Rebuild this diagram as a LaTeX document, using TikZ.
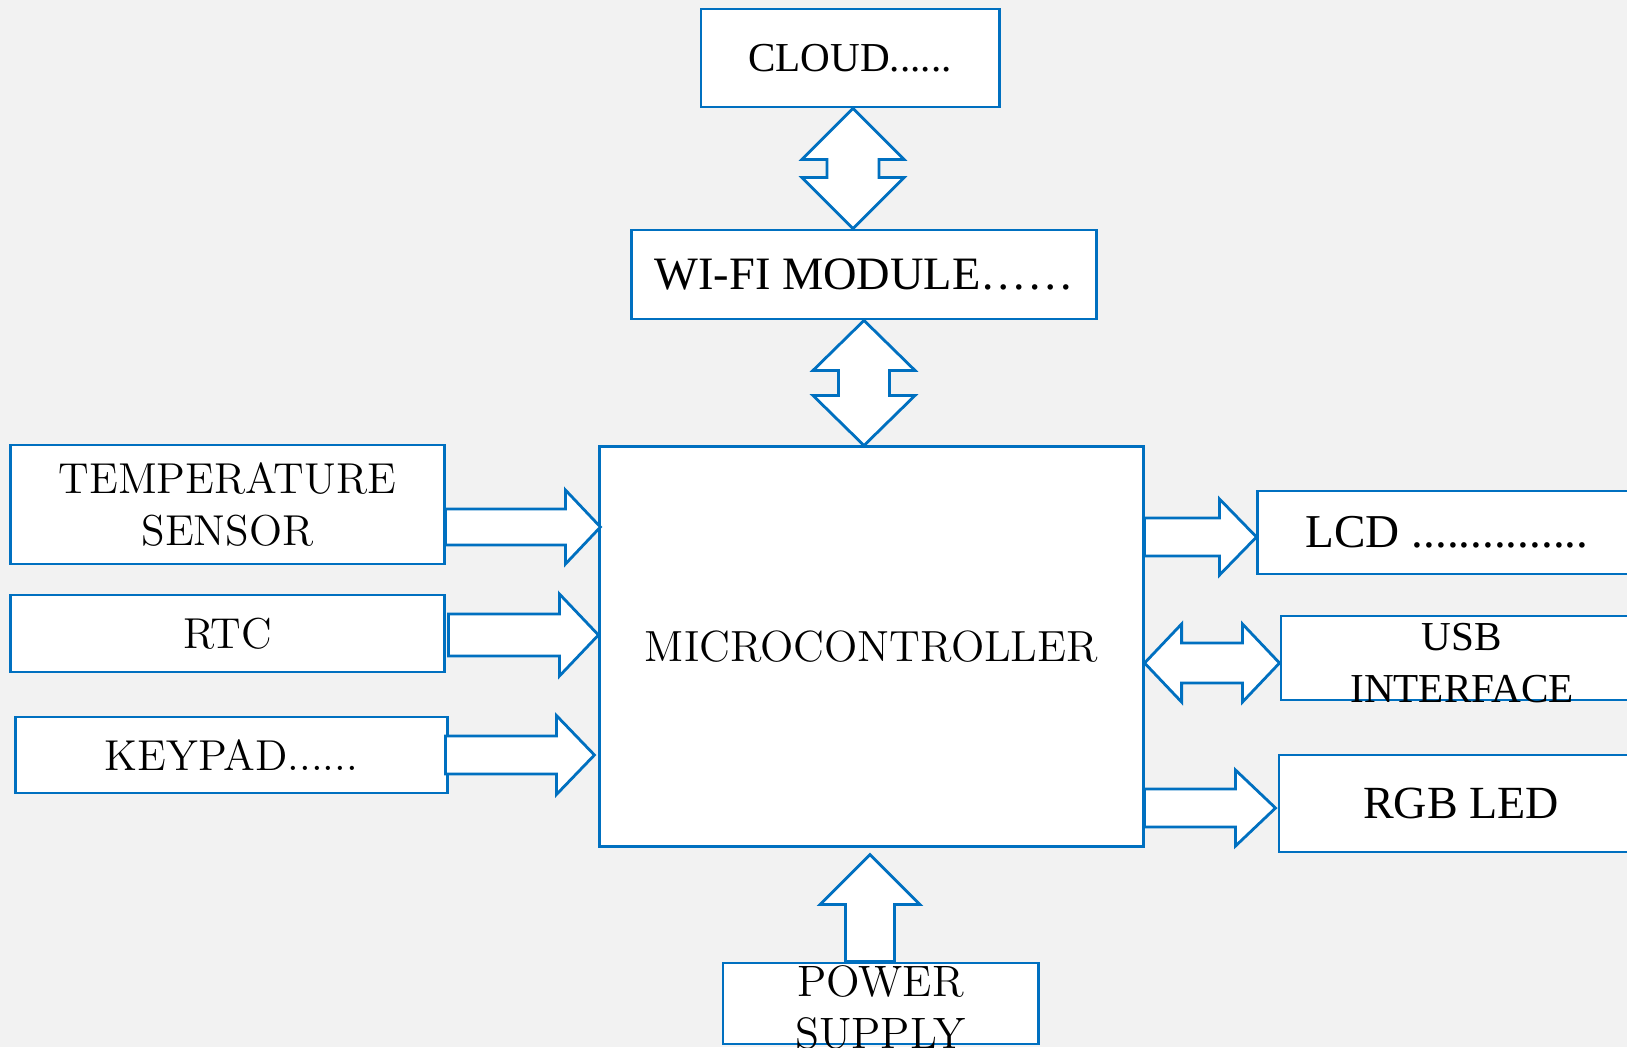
\documentclass[tikz,border=0pt]{standalone}
\usepackage{fontspec}
\newfontfamily\timesfont{Liberation Serif}
\usepackage{tikz}
\usetikzlibrary{calc}
\definecolor{boxblue}{RGB}{0,112,192}
\definecolor{pagegray}{RGB}{242,242,242}
\tikzset{
  blk/.style={draw=boxblue, fill=white, line width=0.8pt, inner sep=0pt, align=center},
  blkarrow/.style={draw=boxblue, fill=white, line width=0.8pt, line join=miter},
  lmtext/.style={font=\fontsize{12.3}{14.8}\selectfont},   % Latin Modern labels
  tmtext/.style={font=\timesfont\fontsize{11.7}{14.8}\selectfont} % Times-like labels
}
% block arrow: tail, tip, shaft half width, head half width, head length
\newcommand{\OneArrow}[5]{%
  \coordinate (hb) at ($#2!#5!#1$);
  \draw[blkarrow] ($#1!#3!90:#2$) -- ($(hb)!#3!-90:#1$) -- ($(hb)!#4!-90:#1$)
    -- #2 -- ($(hb)!#4!90:#1$) -- ($(hb)!#3!90:#1$) -- ($#1!#3!-90:#2$) -- cycle;
}
% block arrow with two heads: end, end, shaft half width, head half width, head length
\newcommand{\TwoArrow}[5]{%
  \coordinate (hbA) at ($#1!#5!#2$);
  \coordinate (hbB) at ($#2!#5!#1$);
  \draw[blkarrow] #1 -- ($(hbA)!#4!90:#2$) -- ($(hbA)!#3!90:#2$) -- ($(hbB)!#3!-90:#1$)
    -- ($(hbB)!#4!-90:#1$) -- #2 -- ($(hbB)!#4!90:#1$) -- ($(hbB)!#3!90:#1$)
    -- ($(hbA)!#3!-90:#2$) -- ($(hbA)!#4!-90:#2$) -- cycle;
}

\begin{document}
\begin{tikzpicture}[x=0.01cm, y=-0.01cm]
  \useasboundingbox (0,0) rectangle (1627,1047);
  \clip (0,0) rectangle (1627,1047);
  \fill[pagegray] (0,0) rectangle (1627,1047);
  % blocks
  \node[blk, tmtext, minimum width=2.98cm, minimum height=0.98cm] (cloud) at (850,58) {CLOUD......};
  \node[blk, tmtext, font=\timesfont\fontsize{13.2}{16}\selectfont, minimum width=4.64cm, minimum height=0.89cm] (wifi) at (864,274.5) {WI-FI MODULE……};
  \node[blk, lmtext, font=\fontsize{12.4}{15}\selectfont, minimum width=5.43cm, minimum height=3.99cm] (mcu) at (871.5,646.5) {MICROCONTROLLER};
  \node[blk, lmtext, minimum width=4.33cm, minimum height=1.19cm] (temp) at (227.5,504.5) {TEMPERATURE\\SENSOR};
  \node[blk, lmtext, minimum width=4.33cm, minimum height=0.77cm] (rtc) at (227.5,633.5) {RTC};
  \node[blk, lmtext, minimum width=4.31cm, minimum height=0.76cm] (keypad) at (231.5,755) {KEYPAD......};
  \node[blk, tmtext, font=\timesfont\fontsize{13.4}{16}\selectfont, minimum width=3.78cm, minimum height=0.83cm] (lcd) at (1447,532.5) {LCD ...............};
  \node[blk, minimum width=3.62cm, minimum height=0.84cm] (usb) at (1462,658) {};
  \node[tmtext, align=center, inner sep=0pt] (usbtext) at ($(usb.center)+(0,5)$) {USB\\INTERFACE};
  \node[blk, tmtext, font=\timesfont\fontsize{13.1}{16}\selectfont, minimum width=3.64cm, minimum height=0.97cm] (rgb) at (1461,803.5) {RGB LED};
  \node[blk, minimum width=3.15cm, minimum height=0.81cm] (power) at (880.5,1003.5) {};
  \node[lmtext, font=\fontsize{12.5}{14.8}\selectfont, align=center, inner sep=0pt] (powertext) at ($(power.center)+(0,4)$) {POWER\\SUPPLY};
  % arrow ends
  \coordinate (cwA) at ($(cloud.south)+(3,0)$);
  \coordinate (cwB) at (cwA |- wifi.north);
  \coordinate (wmA) at (wifi.south);
  \coordinate (wmB) at (wifi.south |- mcu.north);
  \coordinate (tmA) at ($(temp.east)+(0,22.5)$);
  \coordinate (tmB) at ($(mcu.west |- tmA)+(2,0)$);
  \coordinate (rmA) at ($(rtc.east)+(3,1.5)$);
  \coordinate (rmB) at (mcu.west |- rmA);
  \coordinate (kmA) at ($(keypad.east)+(-3,0)$);
  \coordinate (kmB) at ($(mcu.west |- kmA)+(-4,0)$);
  \coordinate (mlA) at ($(mcu.east |- lcd.west)+(0,4.5)$);
  \coordinate (mlB) at (lcd.west |- mlA);
  \coordinate (muA) at ($(mcu.east |- usb.west)+(0,5)$);
  \coordinate (muB) at (usb.west |- muA);
  \coordinate (mrA) at ($(mcu.east |- rgb.west)+(0,4.5)$);
  \coordinate (mrB) at ($(rgb.west |- mrA)+(-2,0)$);
  \coordinate (pmA) at ($(power.north)+(-10.5,0)$);
  \coordinate (pmB) at ($(pmA |- mcu.south)+(0,7)$);
  % block arrows
  \TwoArrow{(cwA)}{(cwB)}{0.26cm}{0.51cm}{0.51cm}
  \TwoArrow{(wmA)}{(wmB)}{0.255cm}{0.51cm}{0.50cm}
  \OneArrow{(tmA)}{(tmB)}{0.18cm}{0.37cm}{0.35cm}
  \OneArrow{(rmA)}{(rmB)}{0.21cm}{0.41cm}{0.39cm}
  \OneArrow{(kmA)}{(kmB)}{0.19cm}{0.395cm}{0.38cm}
  \OneArrow{(mlA)}{(mlB)}{0.19cm}{0.38cm}{0.37cm}
  \TwoArrow{(muA)}{(muB)}{0.20cm}{0.39cm}{0.37cm}
  \OneArrow{(mrA)}{(mrB)}{0.19cm}{0.38cm}{0.40cm}
  \OneArrow{(pmA)}{(pmB)}{0.245cm}{0.50cm}{0.50cm}
\end{tikzpicture}
\end{document}
